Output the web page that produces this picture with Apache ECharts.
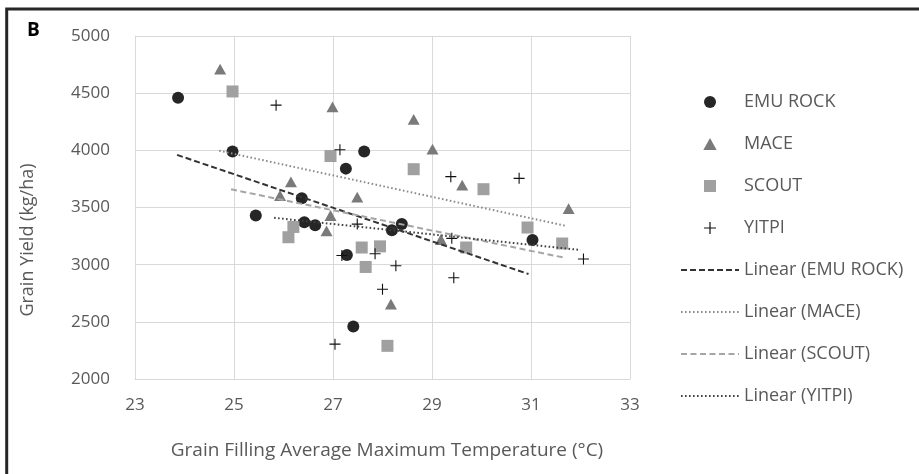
<!DOCTYPE html>
<html>
<head>
<meta charset="utf-8">
<script src="https://cdn.jsdelivr.net/npm/echarts@6/dist/echarts.min.js"></script>
<style>
html,body{margin:0;padding:0;background:#fff;}
#chart{width:919px;height:474px;}
</style>
</head>
<body>
<div id="chart"></div>
<script>
// ---- Data ----
const xTicks = [23, 25, 27, 29, 31, 33];
const yTicks = [2000, 2500, 3000, 3500, 4000, 4500, 5000];

const emuX = [23.87, 24.97, 27.63, 27.26, 26.37, 25.44, 26.42, 26.64, 27.28, 27.41, 28.19, 28.39, 31.03];
const emuY = [4460, 3990, 3990, 3840, 3580, 3430, 3370, 3345, 3085, 2460, 3300, 3355, 3215];

const maceX = [24.72, 26.99, 26.15, 25.93, 27.49, 26.95, 26.87, 28.63, 29.01, 29.61, 31.76, 29.18, 28.17];
const maceY = [4710, 4380, 3725, 3605, 3590, 3430, 3295, 4270, 4010, 3695, 3490, 3220, 2655];

const scoutX = [24.97, 26.95, 28.63, 30.04, 26.2, 26.1, 27.58, 27.66, 27.95, 29.69, 30.93, 31.63, 28.1];
const scoutY = [4515, 3950, 3835, 3660, 3330, 3240, 3150, 2980, 3160, 3150, 3325, 3185, 2290];

const yitpiX = [25.85, 27.14, 29.38, 30.76, 27.49, 27.18, 27.85, 27.04, 28.0, 28.27, 29.4, 29.44, 32.06];
const yitpiY = [4395, 4005, 3770, 3755, 3355, 3080, 3095, 2305, 2785, 2990, 3230, 2885, 3050];

// linear trend line end points (x, y)
const emuTrendX = [23.85, 30.95];
const emuTrendY = [3960, 2918];
const maceTrendX = [24.7, 31.72];
const maceTrendY = [3997, 3338];
const scoutTrendX = [24.94, 31.64];
const scoutTrendY = [3659, 3064];
const yitpiTrendX = [25.81, 32.0];
const yitpiTrendY = [3410, 3128];

const seriesNames = ['EMU ROCK', 'MACE', 'SCOUT', 'YITPI'];
const trendNames = seriesNames.map(n => 'Linear (' + n + ')');
const xTitle = 'Grain Filling Average Maximum Temperature (°C)';
const yTitle = 'Grain Yield (kg/ha)';
const panelLabel = 'B';

// ---- Build ----
const zip = (xs, ys) => xs.map((x, i) => [x, ys[i]]);
const FONT = '"Open Sans", sans-serif';
const TXT = '#595959';
const GRID = '#d9d9d9';
const plusPath = 'path://M4.5,0h1v4.5h4.5v1h-4.5v4.5h-1v-4.5h-4.5v-1h4.5z';
const triPath = 'path://M5,0L10,9L0,9Z';
const sqPath = 'path://M0,0H10V10H0Z';
const symbols = ['circle', triPath, sqPath, plusPath];

function scatter(name, xs, ys, symbol, color, size) {
  return {
    name, type: 'scatter', data: zip(xs, ys), symbol, symbolSize: size,
    symbolKeepAspect: true,
    itemStyle: { color, opacity: 1 }, emphasis: { disabled: true }, z: 3
  };
}
function trend(name, xs, ys, color, type, width) {
  return {
    name, type: 'line', data: zip(xs, ys), symbol: 'none', showSymbol: false,
    lineStyle: { color, type, width }, itemStyle: { color },
    emphasis: { disabled: true }, z: 4
  };
}

const chart = echarts.init(document.getElementById('chart'), null, { renderer: 'canvas' });
chart.setOption({
  animation: false,
  backgroundColor: '#fff',
  textStyle: { fontFamily: FONT },
  grid: { left: 135, top: 36, width: 495, height: 343, containLabel: false },
  xAxis: {
    type: 'value', min: xTicks[0], max: xTicks[xTicks.length - 1], interval: 2,
    axisLine: { show: true, lineStyle: { color: GRID, width: 1 } },
    axisTick: { show: false },
    splitLine: { show: true, lineStyle: { color: GRID, width: 1 } },
    axisLabel: { color: TXT, fontSize: 17, fontFamily: FONT, margin: 18 }
  },
  yAxis: {
    type: 'value', min: yTicks[0], max: yTicks[yTicks.length - 1], interval: 500,
    axisLine: { show: true, lineStyle: { color: GRID, width: 1 } },
    axisTick: { show: false },
    splitLine: { show: true, lineStyle: { color: GRID, width: 1 } },
    axisLabel: { color: TXT, fontSize: 17, fontFamily: FONT, margin: 25, formatter: v => String(v) }
  },
  legend: {
    orient: 'vertical', left: 680, top: 93, padding: 0,
    itemWidth: 58, itemHeight: 12, itemGap: 24,
    symbolKeepAspect: true,
    textStyle: { color: TXT, fontSize: 18, fontFamily: FONT },
    data: seriesNames.map((n, i) => ({ name: n, icon: symbols[i] }))
      .concat(trendNames.map(n => ({ name: n, itemStyle: { opacity: 0 } })))
  },
  series: [
    scatter(seriesNames[0], emuX, emuY, symbols[0], '#262626', 12),
    scatter(seriesNames[1], maceX, maceY, symbols[1], '#7a7a7a', 12),
    scatter(seriesNames[2], scoutX, scoutY, symbols[2], '#a0a0a0', 12),
    scatter(seriesNames[3], yitpiX, yitpiY, symbols[3], '#111111', 11),
    trend(trendNames[0], emuTrendX, emuTrendY, '#333333', [6, 3], 2),
    trend(trendNames[1], maceTrendX, maceTrendY, '#8c8c8c', [1.6, 2.4], 2),
    trend(trendNames[2], scoutTrendX, scoutTrendY, '#a5a5a5', [6, 3.5], 2),
    trend(trendNames[3], yitpiTrendX, yitpiTrendY, '#404040', [1.6, 2.4], 2)
  ],
  graphic: [
    { type: 'rect', shape: { x: 6.7, y: 9, width: 1000, height: 1000 },
      style: { fill: 'none', stroke: '#262626', lineWidth: 3 }, silent: true },
    { type: 'text', left: 27, top: 21,
      style: { text: panelLabel, font: 'bold 19px ' + FONT, fill: '#000' } },
    { type: 'text', x: 387, y: 451,
      style: { text: xTitle, font: '19px ' + FONT, fill: TXT, align: 'center', verticalAlign: 'middle' } },
    { type: 'text', x: 28, y: 240, rotation: Math.PI / 2,
      style: { text: yTitle, font: '18px ' + FONT, fill: TXT, align: 'center', verticalAlign: 'middle' } }
  ]
});
</script>
</body>
</html>
